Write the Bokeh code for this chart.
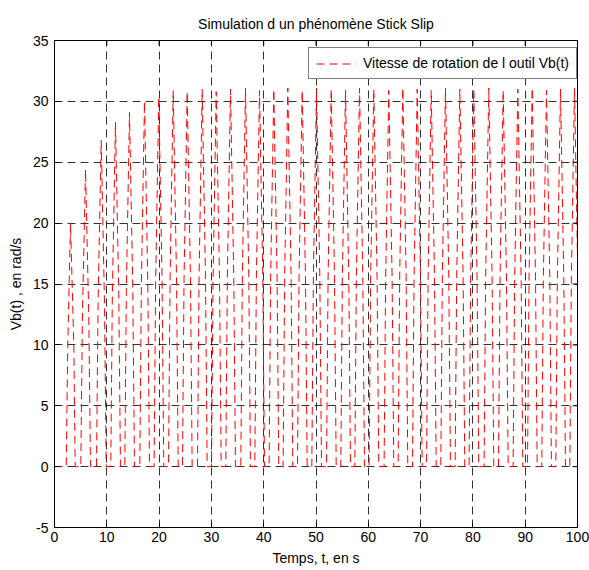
import math

from bokeh.plotting import figure
from bokeh.models import Range1d, FixedTicker, Legend, LegendItem, ColumnDataSource
from bokeh.embed import file_html
from bokeh.resources import INLINE

# Slip cycles of the tool velocity Vb(t):
# leaves 0 at slip_start, passes mid_value at rise_mid, peaks, passes mid_value at fall_mid, back to 0 at slip_end
slip_start = [2.24, 5.03, 8.03, 10.76, 13.44, 16.31, 19.04, 21.80, 24.47, 27.34,
              30.02, 32.75, 35.62, 38.30, 41.03, 43.71, 46.46, 49.20, 52.01, 54.74,
              57.42, 60.15, 63.02, 65.70, 68.45, 71.13, 73.86, 76.60, 79.27, 82.14,
              84.89, 87.69, 90.44, 93.17, 95.85, 98.53]
rise_mid = [2.54, 5.33, 8.33, 11.06, 13.74, 16.61, 19.34, 22.10, 24.77, 27.64,
            30.32, 33.05, 35.92, 38.60, 41.33, 44.01, 46.76, 49.50, 52.31, 55.04,
            57.72, 60.45, 63.32, 66.00, 68.75, 71.43, 74.16, 76.90, 79.57, 82.44,
            85.19, 87.99, 90.74, 93.47, 96.15, 98.83]
peak_time = [3.06, 5.93, 8.93, 11.66, 14.34, 17.21, 19.94, 22.70, 25.37, 28.24,
             30.92, 33.65, 36.52, 39.20, 41.93, 44.61, 47.36, 50.10, 52.91, 55.64,
             58.32, 61.05, 63.92, 66.60, 69.35, 72.03, 74.76, 77.50, 80.17, 83.04,
             85.79, 88.59, 91.34, 94.07, 96.75, 99.43]
fall_mid = [3.69, 6.56, 9.56, 12.29, 14.97, 17.84, 20.57, 23.33, 26.00, 28.87,
            31.55, 34.28, 37.15, 39.83, 42.56, 45.24, 47.99, 50.73, 53.54, 56.27,
            58.95, 61.68, 64.55, 67.23, 69.98, 72.66, 75.39, 78.13, 80.80, 83.67,
            86.42, 89.22, 91.97, 94.70, 97.38, 100.06]
slip_end = [3.96, 6.88, 9.88, 12.61, 15.29, 18.16, 20.89, 23.65, 26.32, 29.19,
            31.87, 34.60, 37.47, 40.15, 42.88, 45.56, 48.31, 51.05, 53.86, 56.59,
            59.27, 62.00, 64.87, 67.55, 70.30, 72.98, 75.71, 78.45, 81.12, 83.99,
            86.74, 89.54, 92.29, 95.02, 97.70, 100.38]
peak_value = [20.0, 24.4, 26.8, 28.3, 29.1, 30.0, 30.4, 30.9, 30.8, 31.0,
              30.8, 31.0, 31.1, 30.9, 31.0, 31.1, 30.9, 31.1, 31.0, 30.9,
              31.1, 31.0, 30.9, 31.1, 31.0, 30.9, 31.1, 31.0, 31.0, 31.1,
              30.9, 31.0, 31.1, 30.9, 31.0, 31.1]
mid_value = [10.0, 12.2, 13.4, 14.2, 14.6, 15.0, 15.2, 15.5, 15.4, 15.5,
             15.4, 15.5, 15.6, 15.5, 15.5, 15.6, 15.5, 15.6, 15.5, 15.5,
             15.6, 15.5, 15.5, 15.6, 15.5, 15.5, 15.6, 15.5, 15.5, 15.6,
             15.5, 15.5, 15.6, 15.5, 15.5, 15.6]
t_final = 100.0
v_final = 17.0

x_ticks = [0, 10, 20, 30, 40, 50, 60, 70, 80, 90, 100]
x_tick_labels = ["0", "10", "20", "30", "40", "50", "60", "70", "80", "90", "100"]
y_ticks = [-5, 0, 5, 10, 15, 20, 25, 30, 35]
y_tick_labels = ["-5", "0", "5", "10", "15", "20", "25", "30", "35"]
x_min, x_max = 0, 100
y_min, y_max = -5, 35

# assemble the polyline: stick at 0, then a slip hump, clipped at the end of the run
t = [0.0]
v = [0.0]
for cyc in zip(slip_start, rise_mid, peak_time, fall_mid, slip_end,
               peak_value, mid_value):
    ts, tr, tp, tf, te, vp, vm = cyc
    for tt, vv in ((ts, 0.0), (tr, vm), (tp, vp), (tf, vm), (te, 0.0)):
        if tt <= t_final:
            t.append(tt)
            v.append(vv)
if t[-1] < t_final:
    t.append(t_final)
    v.append(v_final)
src = ColumnDataSource(data=dict(t=t, v=v))

FONT = "Liberation Sans, Arial, sans-serif"

p = figure(width=589, height=570, output_backend="svg", toolbar_location=None,
           x_range=Range1d(x_min, x_max), y_range=Range1d(y_min, y_max),
           min_border_left=54, min_border_right=12, min_border_top=40, min_border_bottom=43,
           title="Simulation d un phénomène Stick Slip")
p.title.align = "center"
p.title.text_font = FONT
p.title.text_font_size = "14px"
p.title.text_font_style = "normal"
p.title.text_color = "black"
p.title.standoff = 17

p.background_fill_color = "white"
p.border_fill_color = "white"
p.outline_line_color = "black"
p.outline_line_width = 1

p.xgrid.ticker = FixedTicker(ticks=x_ticks)
p.ygrid.ticker = FixedTicker(ticks=y_ticks)
for g in (p.xgrid[0], p.ygrid[0]):
    g.grid_line_color = "black"
    g.grid_line_alpha = 0.8
    g.grid_line_dash = "8 5"
    g.grid_line_width = 1

line = p.line("t", "v", source=src, line_color="#ff0000", line_width=1, line_dash="8 5")

# inward tick marks on the top and right edges of the box (half of each mark is clipped by the frame)
p.scatter(x=x_ticks, y=[y_max] * len(x_ticks), marker="dash", angle=math.pi / 2,
          size=10, line_color="black", line_width=1)
p.scatter(x=[x_max] * len(y_ticks), y=y_ticks, marker="dash",
          size=10, line_color="black", line_width=1)

for ax in (p.xaxis[0], p.yaxis[0]):
    ax.major_tick_in = 5
    ax.major_tick_out = 0
    ax.minor_tick_line_color = None
    ax.axis_line_color = "black"
    ax.major_tick_line_color = "black"
    ax.major_label_text_font = FONT
    ax.major_label_text_font_size = "14px"
    ax.major_label_text_color = "black"
    ax.axis_label_text_font = FONT
    ax.axis_label_text_font_size = "14px"
    ax.axis_label_text_font_style = "normal"
    ax.axis_label_text_color = "black"

p.xaxis[0].ticker = FixedTicker(ticks=x_ticks)
p.yaxis[0].ticker = FixedTicker(ticks=y_ticks)
p.xaxis[0].major_label_overrides = dict(zip(x_ticks, x_tick_labels))
p.yaxis[0].major_label_overrides = dict(zip(y_ticks, y_tick_labels))
p.xaxis[0].axis_label = "Temps, t, en s"
p.yaxis[0].axis_label = "Vb(t) , en rad/s"
p.xaxis[0].major_label_standoff = 4
p.xaxis[0].axis_label_standoff = 5
p.yaxis[0].major_label_standoff = 6
p.yaxis[0].axis_label_standoff = 6

legend = Legend(items=[LegendItem(label="Vitesse de rotation de l outil Vb(t)", renderers=[line])],
                location=(254, 448))
legend.border_line_color = "black"
legend.border_line_width = 1
legend.background_fill_color = "white"
legend.background_fill_alpha = 1
legend.padding = 7
legend.margin = 0
legend.glyph_width = 40
legend.glyph_height = 15
legend.label_height = 15
legend.label_standoff = 7
legend.label_text_font = FONT
legend.label_text_font_size = "14px"
legend.label_text_color = "black"
p.add_layout(legend, "center")

open("out.html", "w").write(file_html(p, INLINE))
